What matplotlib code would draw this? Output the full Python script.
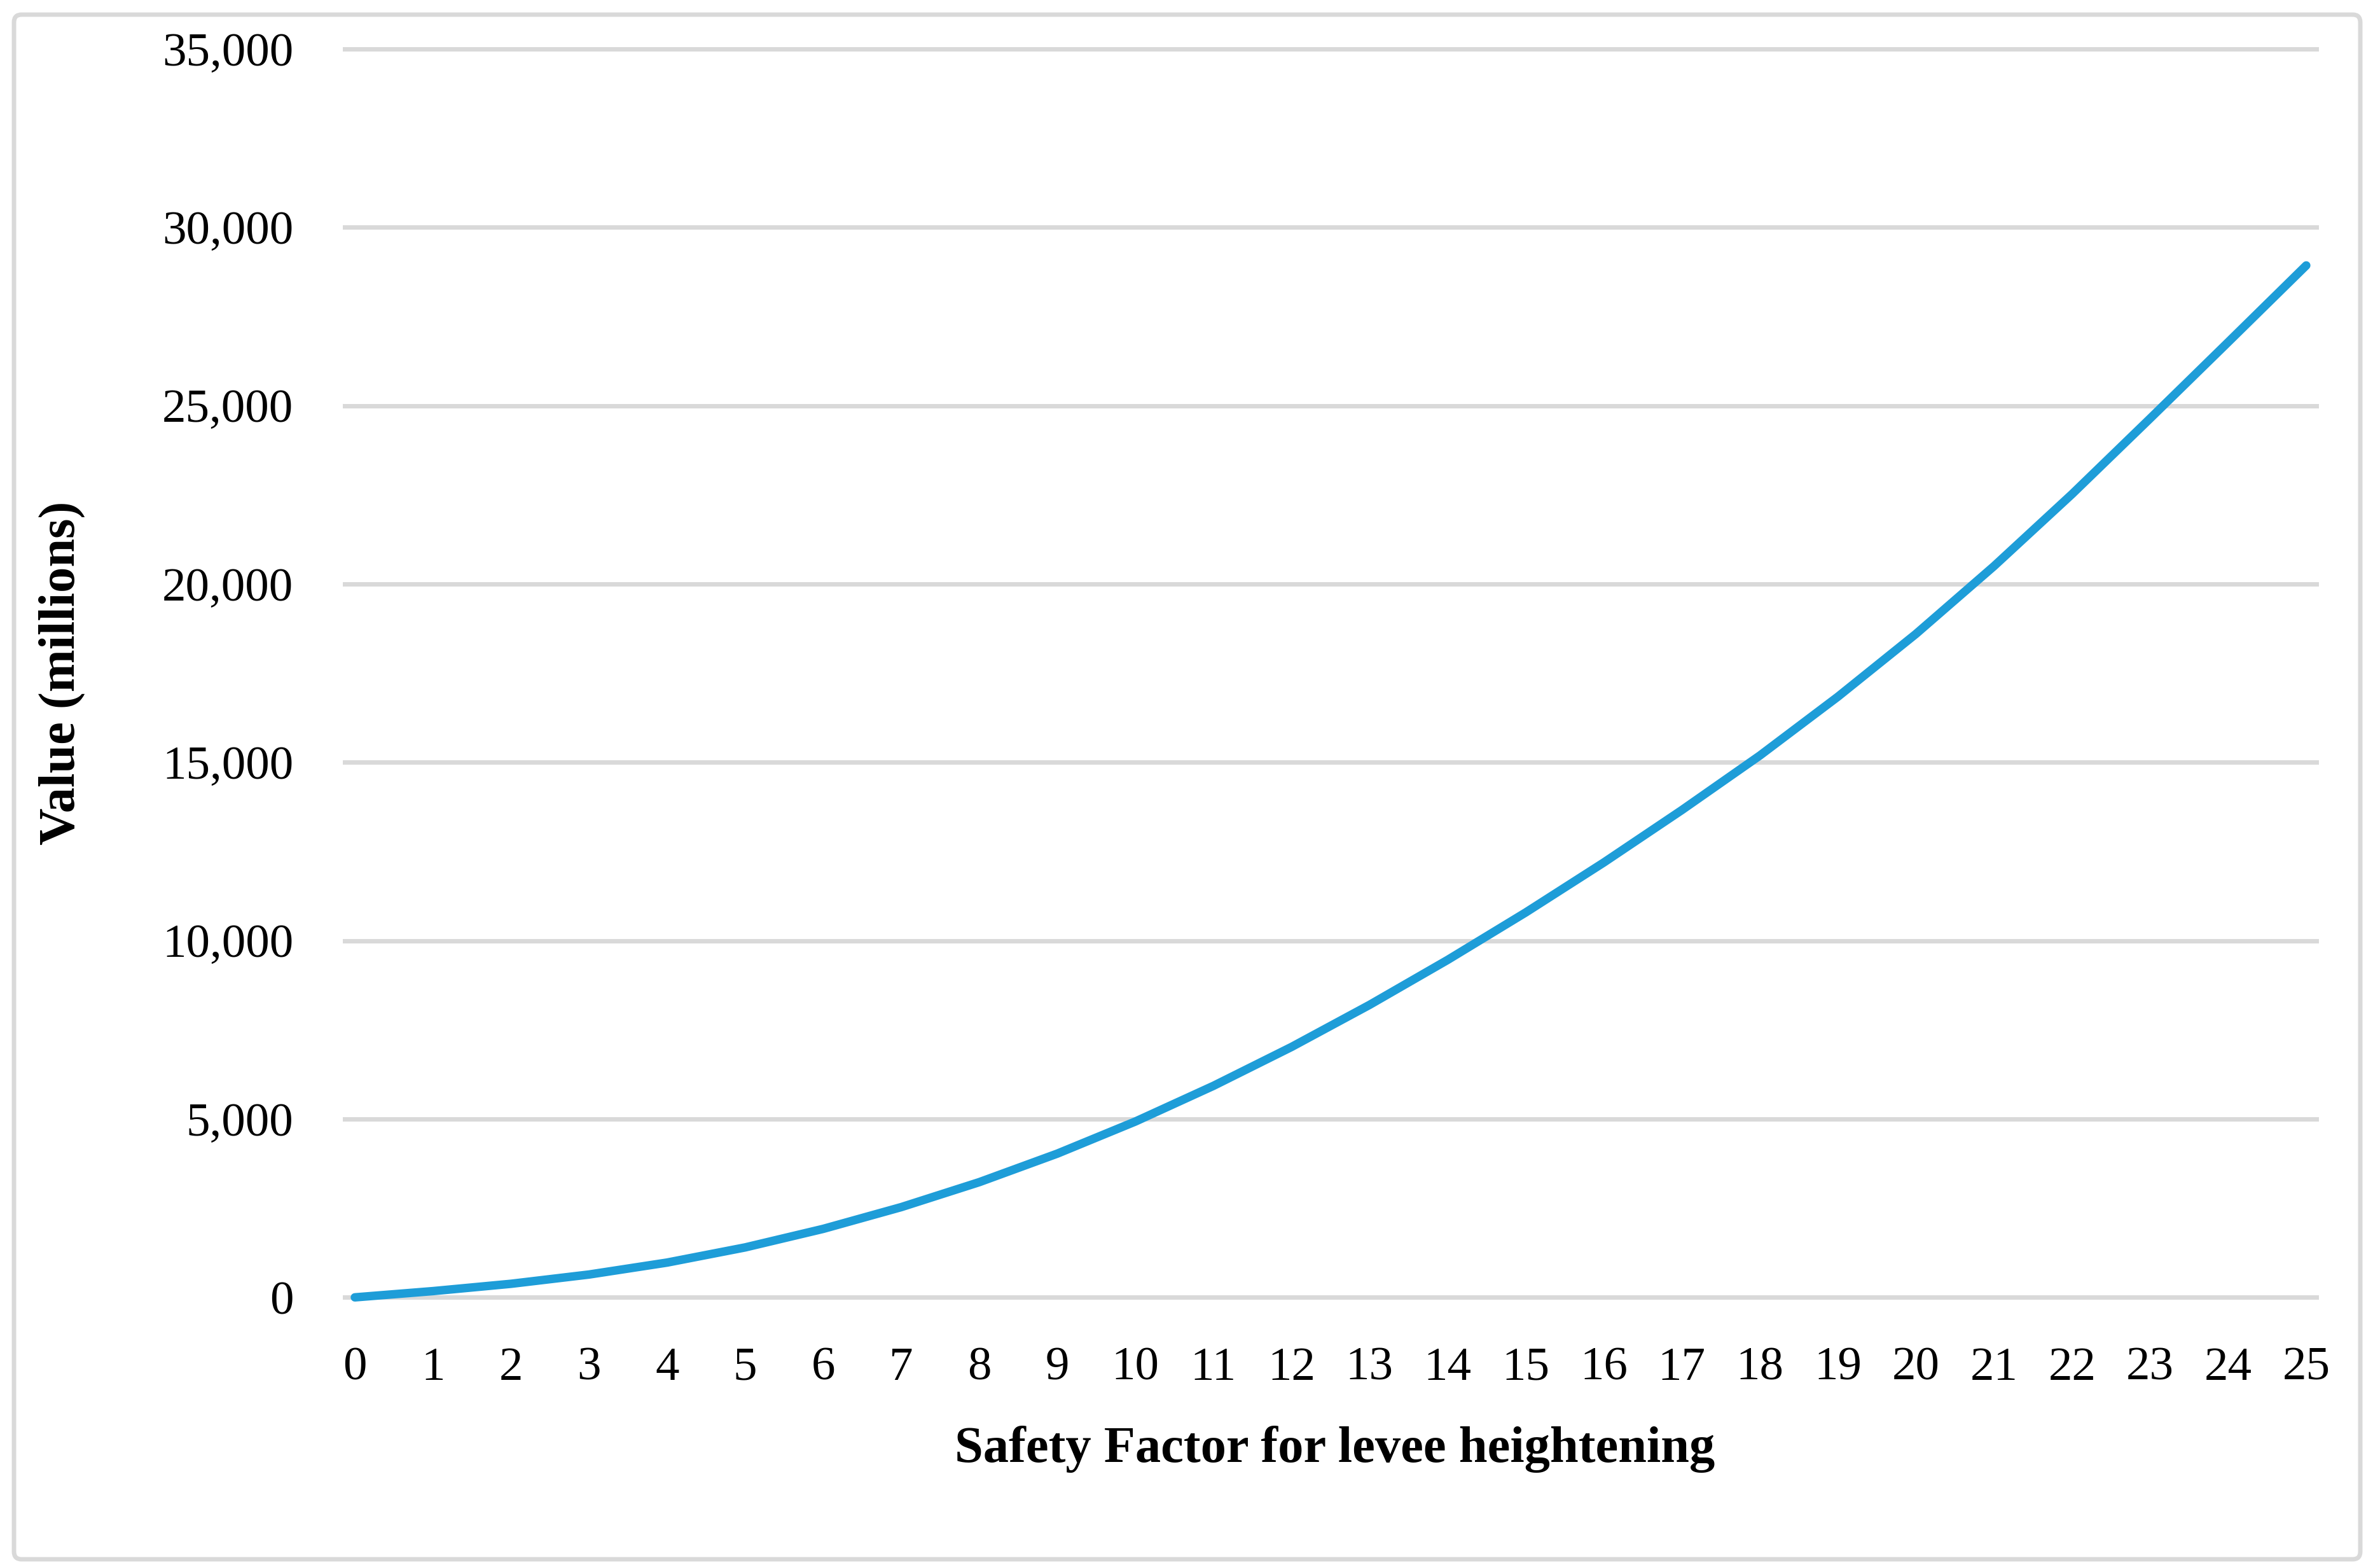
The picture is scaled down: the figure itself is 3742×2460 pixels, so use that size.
import matplotlib
matplotlib.use('Agg')
import matplotlib.pyplot as plt
from matplotlib.patches import FancyBboxPatch

# values (millions)
safety_factor = list(range(0, 26))
value_millions = [0, 175, 380, 640, 975, 1400, 1920, 2530, 3230, 4030,
                  4930, 5930, 7020, 8200, 9460, 10790, 12190, 13660, 15190, 16840,
                  18600, 20500, 22520, 24640, 26780, 28930]

y_ticks = [0, 5000, 10000, 15000, 20000, 25000, 30000, 35000]
y_tick_labels = ['0', '5,000', '10,000', '15,000', '20,000', '25,000', '30,000', '35,000']

x_title = 'Safety Factor for levee heightening'
y_title = 'Value (millions)'

plt.rcParams['font.family'] = ['Liberation Serif', 'DejaVu Serif']

fig = plt.figure(figsize=(18.71, 12.30), dpi=200)
ax = fig.add_axes([0.14484, 0.17102, 0.82843, 0.79772])

ax.plot(safety_factor, value_millions, color='#1e9dd8', linewidth=4.8,
        solid_capstyle='round', solid_joinstyle='round', zorder=3, clip_on=False)

ax.set_xlim(-0.13, 25.13)
ax.set_ylim(0, 35000)
ax.set_xticks(safety_factor)
ax.set_yticks(y_ticks)
ax.set_yticklabels(y_tick_labels)

# light grey horizontal gridlines only
ax.grid(axis='y', color='#d9d9d9', linewidth=2.5)
ax.set_axisbelow(True)
for line in ax.get_ygridlines():
    line.set_clip_on(False)
for s in ax.spines.values():
    s.set_visible(False)

ax.tick_params(length=0, labelsize=27, colors='black')
ax.tick_params(axis='y', pad=29)
ax.tick_params(axis='x', pad=28)

ax.set_xlabel(x_title, fontsize=29, fontweight='bold', va='baseline')
ax.xaxis.set_label_coords(0.502, -0.1318)
ax.set_ylabel(y_title, fontsize=29, fontweight='bold', va='baseline')
ax.yaxis.set_label_coords(-0.1371, 0.5)

# rounded grey frame around the whole chart
frame = FancyBboxPatch((0.11, 0.045), 18.445, 12.14,
                       boxstyle='round,pad=0,rounding_size=0.06',
                       transform=fig.dpi_scale_trans, facecolor='none',
                       edgecolor='#d9d9d9', linewidth=2.5)
fig.patches.append(frame)

fig.savefig('out.png', dpi=200, facecolor='white')
